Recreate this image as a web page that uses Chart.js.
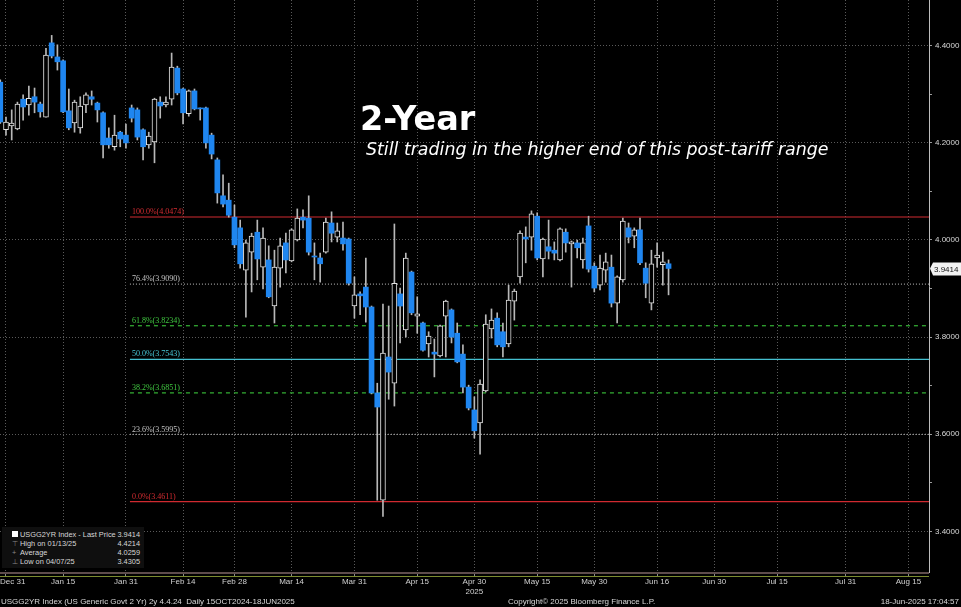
<!DOCTYPE html>
<html>
<head>
<meta charset="utf-8">
<script src="https://cdn.jsdelivr.net/npm/chart.js@4.4.1/dist/chart.umd.min.js"></script>
<style>
  html, body { margin: 0; padding: 0; background: #000; }
  #wrap { position: relative; width: 961px; height: 607px; overflow: hidden; background: #000;
          font-family: "Liberation Sans", Arial, sans-serif; }
  canvas { position: absolute; left: 0; top: 0; }
  .t { position: absolute; white-space: nowrap; color: #d8d8d8; font-size: 8px; line-height: 9px; }
  #title { left: 360px; top: 102px; font: bold 33.5px "DejaVu Sans"; line-height: 33.5px; color: #fff; }
  #sub { left: 366px; top: 141px; font: oblique 17.4px "DejaVu Sans"; line-height: 17px; color: #fff; }
  #legend { position: absolute; left: 2px; top: 527px; width: 142px; height: 41px; background: #0f0f0f; }
  #legend .t { font-size: 7.4px; }
  .v { text-align: right; width: 50px; }
</style>
</head>
<body>
<div id="wrap">
  <canvas id="chart" width="961" height="607"></canvas>
  <div id="title" class="t">2-Year</div>
  <div id="sub" class="t">Still trading in the higher end of this post-tariff range</div>
  <div id="legend">
    <div style="position:absolute;left:10px;top:4px;width:6px;height:6px;background:#fff;"></div>
    <div class="t" style="left:18px;top:3px;">USGG2YR Index - Last Price</div>
    <div class="t v" style="left:88px;top:3px;">3.9414</div>
    <div class="t" style="left:10px;top:12px;color:#888;">&#8868;</div>
    <div class="t" style="left:18px;top:12px;">High on 01/13/25</div>
    <div class="t v" style="left:88px;top:12px;">4.4214</div>
    <div class="t" style="left:10px;top:21px;color:#888;">+</div>
    <div class="t" style="left:18px;top:21px;">Average</div>
    <div class="t v" style="left:88px;top:21px;">4.0259</div>
    <div class="t" style="left:10px;top:30px;color:#888;">&#8869;</div>
    <div class="t" style="left:18px;top:30px;">Low on 04/07/25</div>
    <div class="t v" style="left:88px;top:30px;">3.4305</div>
  </div>
  <div class="t" style="left:1px;top:597px;">USGG2YR Index (US Generic Govt 2 Yr) 2y 4.4.24&nbsp; Daily 15OCT2024-18JUN2025</div>
  <div class="t" style="left:508px;top:597px;">Copyright&copy; 2025 Bloomberg Finance L.P.</div>
  <div class="t" style="right:2px;top:597px;">18-Jun-2025 17:04:57</div>
</div>
<script>
// trading sessions, Dec 30 2024 .. Jun 18 2025
const sessions = [
  "Dec 30","Dec 31","Jan 2","Jan 3","Jan 6","Jan 7","Jan 8","Jan 9","Jan 10","Jan 13","Jan 14","Jan 15",
  "Jan 16","Jan 17","Jan 21","Jan 22","Jan 23","Jan 24","Jan 27","Jan 28","Jan 29","Jan 30","Jan 31",
  "Feb 3","Feb 4","Feb 5","Feb 6","Feb 7","Feb 10","Feb 11","Feb 12","Feb 13","Feb 14","Feb 18","Feb 19",
  "Feb 20","Feb 21","Feb 24","Feb 25","Feb 26","Feb 27","Feb 28",
  "Mar 3","Mar 4","Mar 5","Mar 6","Mar 7","Mar 10","Mar 11","Mar 12","Mar 13","Mar 14","Mar 17","Mar 18",
  "Mar 19","Mar 20","Mar 21","Mar 24","Mar 25","Mar 26","Mar 27","Mar 28","Mar 31",
  "Apr 1","Apr 2","Apr 3","Apr 4","Apr 7","Apr 8","Apr 9","Apr 10","Apr 11","Apr 14","Apr 15","Apr 16",
  "Apr 17","Apr 21","Apr 22","Apr 23","Apr 24","Apr 25","Apr 28","Apr 29","Apr 30",
  "May 1","May 2","May 5","May 6","May 7","May 8","May 9","May 12","May 13","May 14","May 15","May 16",
  "May 19","May 20","May 21","May 22","May 23","May 27","May 28","May 29","May 30",
  "Jun 2","Jun 3","Jun 4","Jun 5","Jun 6","Jun 9","Jun 10","Jun 11","Jun 12","Jun 13","Jun 16","Jun 17","Jun 18"
];

const opens = [
  4.325, 4.227, 4.235, 4.229, 4.290, 4.278, 4.295, 4.280, 4.253, 4.406, 4.377, 4.369, 4.266, 4.241, 4.231, 4.278, 4.295, 4.282, 4.262, 4.210, 4.192, 4.222, 4.216,
  4.272, 4.268, 4.227, 4.196, 4.202, 4.284, 4.278, 4.290, 4.354, 4.311, 4.260, 4.307, 4.271, 4.272, 4.216, 4.165, 4.091, 4.082, 4.047,
  4.025, 3.938, 3.975, 4.016, 3.944, 3.959, 3.864, 3.942, 3.994, 3.957, 4.000, 4.047, 4.045, 3.967, 3.963, 3.975, 4.035, 4.006, 4.004, 4.002, 3.864,
  3.889, 3.903, 3.862, 3.685, 3.464, 3.759, 3.705, 3.889, 3.815, 3.934, 3.843, 3.829, 3.786, 3.769, 3.761, 3.843, 3.856, 3.808, 3.765, 3.697, 3.650,
  3.623, 3.689, 3.817, 3.839, 3.811, 3.786, 3.874, 3.924, 4.006, 4.006, 4.049, 3.961, 3.986, 3.979, 3.959, 4.016, 3.992, 3.994, 3.959, 4.029, 3.946,
  3.907, 3.938, 3.944, 3.870, 3.918, 4.025, 4.008, 4.021, 3.942, 3.870, 3.963, 3.949, 3.951
];
const highs = [
  4.330, 4.253, 4.268, 4.284, 4.299, 4.317, 4.313, 4.284, 4.395, 4.4214, 4.402, 4.371, 4.311, 4.288, 4.295, 4.303, 4.307, 4.284, 4.264, 4.231, 4.257, 4.224, 4.239,
  4.278, 4.272, 4.229, 4.222, 4.292, 4.295, 4.295, 4.385, 4.358, 4.313, 4.309, 4.311, 4.272, 4.274, 4.220, 4.169, 4.134, 4.117, 4.072,
  4.041, 4.000, 4.014, 4.041, 4.025, 3.988, 3.979, 4.004, 4.014, 4.023, 4.064, 4.062, 4.091, 3.994, 3.973, 4.045, 4.058, 4.035, 4.037, 4.004, 3.924,
  3.893, 3.963, 3.864, 3.705, 3.868, 3.864, 4.033, 3.901, 3.973, 3.936, 3.883, 3.831, 3.811, 3.796, 3.825, 3.876, 3.858, 3.829, 3.784, 3.701, 3.677,
  3.712, 3.846, 3.858, 3.850, 3.829, 3.907, 3.899, 4.019, 4.027, 4.060, 4.056, 4.004, 4.041, 3.996, 4.025, 4.023, 3.998, 4.000, 4.004, 4.049, 3.953,
  3.969, 3.973, 3.969, 3.926, 4.045, 4.035, 4.025, 4.045, 3.953, 3.979, 3.994, 3.975, 3.959
];
const lows = [
  4.240, 4.216, 4.206, 4.227, 4.247, 4.257, 4.262, 4.253, 4.253, 4.375, 4.350, 4.262, 4.227, 4.222, 4.220, 4.262, 4.278, 4.243, 4.169, 4.189, 4.185, 4.192, 4.189,
  4.243, 4.206, 4.165, 4.189, 4.159, 4.251, 4.274, 4.278, 4.299, 4.239, 4.255, 4.268, 4.247, 4.189, 4.167, 4.076, 4.068, 4.047, 3.984,
  3.942, 3.841, 3.893, 3.918, 3.899, 3.881, 3.829, 3.903, 3.932, 3.955, 3.998, 4.025, 3.969, 3.918, 3.913, 3.973, 3.996, 3.996, 3.979, 3.907, 3.839,
  3.846, 3.831, 3.683, 3.464, 3.4305, 3.672, 3.658, 3.788, 3.800, 3.846, 3.808, 3.771, 3.759, 3.718, 3.759, 3.759, 3.788, 3.747, 3.685, 3.650, 3.592,
  3.559, 3.687, 3.798, 3.780, 3.759, 3.780, 3.835, 3.911, 3.953, 3.979, 3.959, 3.924, 3.961, 3.959, 3.957, 3.975, 3.903, 3.963, 3.942, 3.934, 3.893,
  3.897, 3.913, 3.862, 3.829, 3.913, 3.994, 3.984, 3.949, 3.881, 3.856, 3.944, 3.907, 3.887
];
const closes = [
  4.243, 4.243, 4.241, 4.280, 4.274, 4.292, 4.284, 4.264, 4.381, 4.379, 4.367, 4.264, 4.231, 4.284, 4.276, 4.299, 4.290, 4.268, 4.196, 4.196, 4.216, 4.208, 4.200,
  4.251, 4.212, 4.192, 4.214, 4.290, 4.276, 4.284, 4.356, 4.303, 4.262, 4.307, 4.270, 4.270, 4.200, 4.177, 4.097, 4.074, 4.051, 3.990,
  3.951, 3.994, 4.008, 3.961, 4.004, 3.883, 3.944, 3.988, 3.959, 4.021, 4.045, 4.041, 3.975, 3.965, 3.951, 4.037, 4.014, 4.019, 3.992, 3.911, 3.887,
  3.885, 3.862, 3.685, 3.656, 3.767, 3.728, 3.911, 3.864, 3.963, 3.850, 3.848, 3.773, 3.802, 3.765, 3.823, 3.874, 3.800, 3.749, 3.697, 3.654, 3.607,
  3.703, 3.827, 3.835, 3.784, 3.780, 3.876, 3.895, 4.014, 4.002, 4.054, 3.963, 4.002, 3.977, 3.973, 4.023, 3.994, 3.996, 3.984, 3.994, 3.940, 3.901,
  3.942, 3.955, 3.870, 3.924, 4.039, 4.006, 4.021, 3.953, 3.911, 3.951, 3.969, 3.955, 3.9414
];
const lastPrice = 3.9414;

// fibonacci retracement levels
const fibPct = [100, 76.4, 61.8, 50, 38.2, 23.6, 0];
const fibLevel = [4.0474, 3.9090, 3.8234, 3.7543, 3.6851, 3.5995, 3.4611];
const fibStartIdx = 22.7;

// x axis: session index (future weekdays continue the count)
const xTickIdx = [1, 11, 22, 32, 41, 51, 62, 73, 83, 94, 104, 115, 125, 136, 148, 159];
const xTickLabels = ["      Dec 31", "Jan 15", "Jan 31", "Feb 14", "Feb 28", "Mar 14", "Mar 31", "Apr 15",
  ["Apr 30", "2025"], "May 15", "May 30", "Jun 16", "Jun 30", "Jul 15", "Jul 31", "Aug 15"];
const yTicks = [3.4, 3.5, 3.6, 3.7, 3.8, 3.9, 4.0, 4.1, 4.2, 4.3, 4.4];

const xMin = -0.05, xMax = 162.6;
const yMin = 3.3162, yMax = 4.4943;

const BLUE = "#1f86f0";
const GRID = "#5a5a5a";
const fibLine = ["#d02a30", "#9a9a9a", "#36b536", "#45c0d0", "#36b536", "#9a9a9a", "#d02a30"];
const fibText = ["#d42c31", "#c4c4c4", "#40c840", "#48c8d8", "#40c840", "#c4c4c4", "#d42c31"];
const fibDash = [[], [1, 2], [4, 4], [], [4, 4], [1, 2], []];

const up = (i) => closes[i] >= opens[i];

const overlay = {
  id: "overlay",
  afterDatasetsDraw(chart) {
    const { ctx, scales: { x, y } } = chart;
    ctx.save();
    ctx.font = '8px "Liberation Serif"';
    ctx.textBaseline = "bottom";
    fibLevel.forEach((lvl, k) => {
      ctx.fillStyle = fibText[k];
      ctx.fillText(fibPct[k].toFixed(1) + "%(" + lvl.toFixed(4) + ")",
        x.getPixelForValue(fibStartIdx) + 2, y.getPixelForValue(lvl) - 1);
    });
    ctx.restore();
  },
  afterDraw(chart) {
    const { ctx, chartArea, scales: { y } } = chart;
    ctx.save();
    // bottom frame lines
    ctx.fillStyle = "#5e4c4c";
    ctx.fillRect(0, chartArea.bottom, chartArea.right, 2);
    ctx.fillStyle = "#7c8a30";
    ctx.fillRect(0, chartArea.bottom + 4, chartArea.right, 1);
    // last price tag
    const py = y.getPixelForValue(lastPrice);
    ctx.fillStyle = "#f2f2f2";
    ctx.beginPath();
    ctx.moveTo(chartArea.right + 1, py);
    ctx.lineTo(chartArea.right + 4, py - 6);
    ctx.lineTo(961, py - 6);
    ctx.lineTo(961, py + 7);
    ctx.lineTo(chartArea.right + 4, py + 7);
    ctx.closePath();
    ctx.fill();
    ctx.fillStyle = "#111";
    ctx.font = '8px "Liberation Sans"';
    ctx.textBaseline = "middle";
    ctx.fillText(lastPrice.toFixed(4), chartArea.right + 5, py + 1);
    ctx.restore();
  }
};

const datasets = [
  {
    type: "bar",
    label: "wick",
    data: sessions.map((d, i) => ({ x: i, y: [lows[i], highs[i]] })),
    backgroundColor: "#b8b8b8",
    barThickness: 1,
    grouped: false,
    order: 2
  },
  {
    type: "bar",
    label: "body",
    data: sessions.map((d, i) => ({ x: i, y: [opens[i], closes[i]] })),
    backgroundColor: (c) => (up(c.dataIndex) ? "#000" : BLUE),
    borderColor: (c) => (up(c.dataIndex) ? "#e2e2e2" : BLUE),
    borderWidth: (c) => (up(c.dataIndex) ? 1 : 0),
    borderSkipped: false,
    barThickness: 5,
    minBarLength: 1,
    grouped: false,
    order: 1
  }
];
fibLevel.forEach((lvl, k) => {
  datasets.push({
    type: "line",
    label: "fib " + fibPct[k],
    data: [{ x: fibStartIdx, y: lvl }, { x: xMax, y: lvl }],
    borderColor: fibLine[k],
    borderWidth: 1.2,
    borderDash: fibDash[k],
    pointRadius: 0,
    order: 10
  });
});

new Chart(document.getElementById("chart"), {
  type: "bar",
  data: { datasets },
  plugins: [overlay],
  options: {
    responsive: false,
    animation: false,
    devicePixelRatio: 1,
    layout: { padding: 0 },
    plugins: { legend: { display: false }, tooltip: { enabled: false } },
    scales: {
      x: {
        type: "linear",
        min: xMin,
        max: xMax,
        offset: false,
        afterFit: (s) => { s.height = 35; s.paddingLeft = 0; s.paddingRight = 0; },
        afterBuildTicks: (s) => { s.ticks = xTickIdx.map((v) => ({ value: v })); },
        ticks: {
          autoSkip: false,
          maxRotation: 0,
          padding: 1,
          color: "#d0d0d0",
          font: { family: "Liberation Sans", size: 8 },
          callback: (v) => xTickLabels[xTickIdx.indexOf(v)]
        },
        grid: { color: GRID, tickColor: "#8a8a8a", tickLength: 4, offset: false },
        border: { display: false, dash: [1, 2] }
      },
      y: {
        position: "right",
        min: yMin,
        max: yMax,
        afterFit: (s) => { s.width = 32; s.paddingTop = 0; s.paddingBottom = 0; },
        afterBuildTicks: (s) => { s.ticks = yTicks.map((v) => ({ value: v })); },
        ticks: {
          padding: 3,
          color: "#d8d8d8",
          font: { family: "Liberation Sans", size: 8 },
          callback: (v) => (Math.round(v * 10) % 2 === 0 ? v.toFixed(4) : "")
        },
        grid: {
          color: (c) => (Math.round(c.tick.value * 10) % 2 === 0 ? GRID : "rgba(0,0,0,0)"),
          tickColor: "#9a9a9a",
          tickLength: 3
        },
        border: { display: true, color: "#bdbdbd", width: 1, dash: [1, 2] }
      }
    }
  }
});
</script>
</body>
</html>
